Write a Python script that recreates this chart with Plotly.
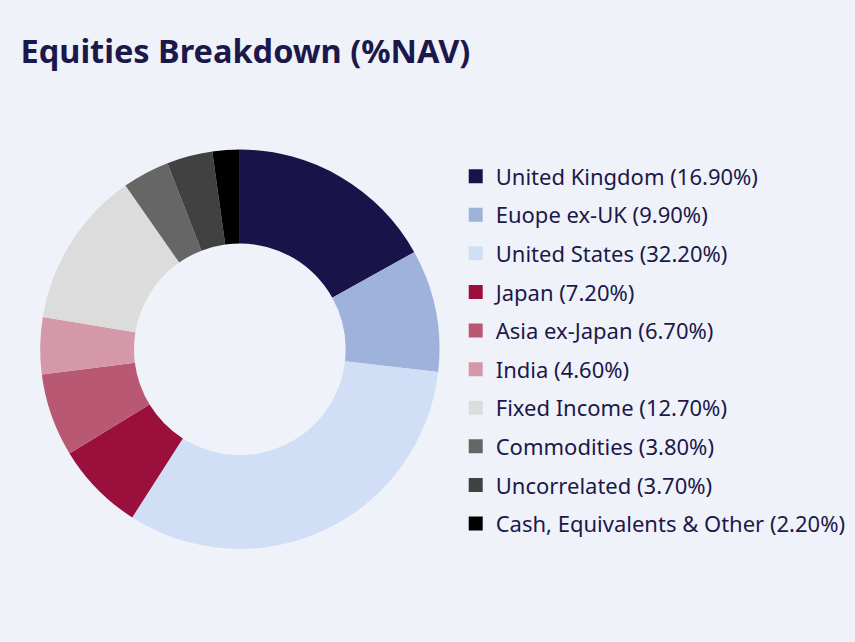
import plotly.graph_objects as go

# Allocation data (%NAV)
labels = [
    "United Kingdom",
    "Euope ex-UK",
    "United States",
    "Japan",
    "Asia ex-Japan",
    "India",
    "Fixed Income",
    "Commodities",
    "Uncorrelated",
    "Cash, Equivalents & Other",
]
values = [16.9, 9.9, 32.2, 7.2, 6.7, 4.6, 12.7, 3.8, 3.7, 2.2]
colors = [
    "#18144a",
    "#9eb2db",
    "#d0dff5",
    "#9a0f3c",
    "#b85873",
    "#d498a8",
    "#dcdcdc",
    "#666666",
    "#414141",
    "#000000",
]

BG = "#eff3f9"
TEXT = "#1c184b"
FONT = "Noto Sans"

fig = go.Figure()

# Donut
fig.add_trace(
    go.Pie(
        labels=labels,
        values=values,
        marker=dict(colors=colors, line=dict(width=0)),
        hole=0.53,
        sort=False,
        direction="clockwise",
        rotation=0,
        textinfo="none",
        showlegend=False,
        domain=dict(x=[0.047, 0.514], y=[0.143, 0.769]),
        hovertemplate="%{label}: %{value:.2f}%<extra></extra>",
    )
)

# Legend entries (one group each so the gap between rows can be set)
for lab, val, col in zip(labels, values, colors):
    fig.add_trace(
        go.Scatter(
            x=[None],
            y=[None],
            mode="markers",
            marker=dict(symbol="square", size=14, color=col),
            name=f"{lab} ({val:.2f}%)",
            legendgroup=lab,
            hoverinfo="skip",
        )
    )

fig.update_layout(
    width=855,
    height=642,
    paper_bgcolor=BG,
    plot_bgcolor=BG,
    margin=dict(l=0, r=0, t=0, b=0),
    font=dict(family=FONT, color=TEXT),
    title=dict(
        text="<b>Equities Breakdown (%NAV)</b>",
        font=dict(family=FONT, size=32.5, color=TEXT),
        x=0.024,
        xanchor="left",
        xref="container",
        y=0.92,
        yanchor="middle",
        yref="container",
    ),
    xaxis=dict(visible=False),
    yaxis=dict(visible=False),
    legend=dict(
        x=0.533,
        y=0.758,
        xanchor="left",
        yanchor="top",
        bgcolor="rgba(0,0,0,0)",
        font=dict(family=FONT, size=22, color=TEXT),
        traceorder="grouped",
        tracegroupgap=7,
        itemsizing="trace",
    ),
)

# drop the default page margin so the background fills the window
fig.write_html(
    "out.html",
    config={"displayModeBar": False},
    post_script="document.body.style.margin='0';document.body.style.background='%s';" % BG,
)
